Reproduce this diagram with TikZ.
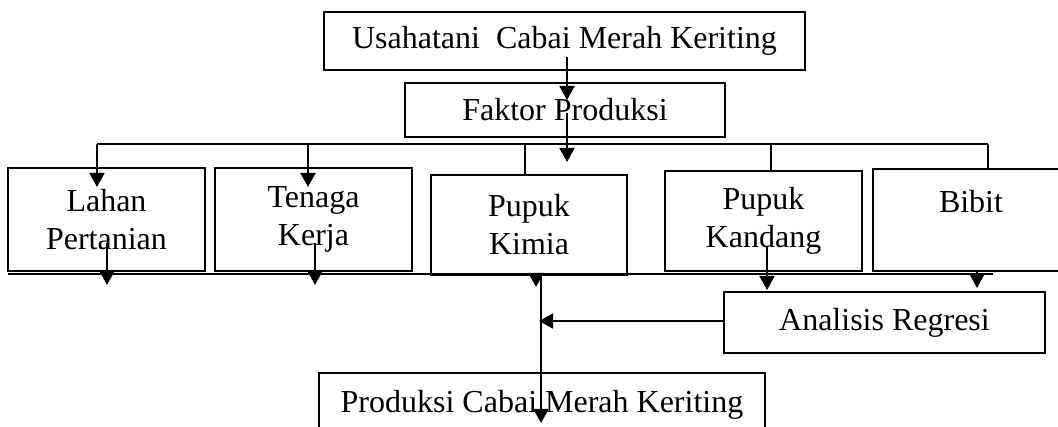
\documentclass[tikz,border=0pt]{standalone}
\usepackage{fontspec}
\setmainfont{Liberation Serif}
\usetikzlibrary{arrows.meta}
\tikzset{
  box/.style={draw, line width=1.5pt, fill=white, inner sep=0pt, align=center,
              font=\fontsize{32}{38}\selectfont},
  ln/.style={line width=1.8pt},
  arr/.style={line width=1.8pt, -{Triangle[width=15pt,length=14pt]}}
}
\begin{document}
\begin{tikzpicture}[x=1pt,y=-1pt]
\useasboundingbox (0,0) rectangle (1058,427);
\clip (0,0) rectangle (1058,427);
% boxes
\node[box, minimum width=481pt, minimum height=58pt] (top) at (564.5,41) {Usahatani\ \ Cabai Merah Keriting};
\node[box, minimum width=320pt, minimum height=54pt] (faktor) at (565,110) {Faktor Produksi};
\node[box, minimum width=197pt, minimum height=103pt] (lahan) at (106.5,219.5) {Lahan\\Pertanian};
\node[box, minimum width=197pt, minimum height=103pt] (tenaga) at (313.5,219.5) {Tenaga\\Kerja};
\node[box, minimum width=196pt, minimum height=100pt] (kimia) at (529,225) {Pupuk\\Kimia};
\node[box, minimum width=197pt, minimum height=100pt] (kandang) at (763.5,221) {Pupuk\\Kandang};
\node[box, minimum width=196pt, minimum height=102pt] (bibit) at (971,220) {Bibit\\\mbox{}};
\node[box, minimum width=321pt, minimum height=61pt] (analisis) at (884.5,322.5) {Analisis Regresi};
\node[box, minimum width=446pt, minimum height=64pt] (produksi) at (542,405) {Produksi Cabai Merah Keriting};
% coordinates
\coordinate (t1) at (567,57);  \coordinate (t2) at (567,100);
\coordinate (f1) at (567,113); \coordinate (f2) at (567,162);
\coordinate (d1) at (97,144);  \coordinate (d2) at (988,144);
\coordinate (la1) at (97,187); \coordinate (te0) at (308,144); \coordinate (te1) at (308,187);
\coordinate (ki0) at (525,144); \coordinate (ki1) at (525,175);
\coordinate (ka0) at (771,144); \coordinate (ka1) at (771,171);
\coordinate (bi1) at (988,169);
\coordinate (b1) at (8,274); \coordinate (b2) at (993,274);
\coordinate (la2) at (107,243); \coordinate (la3) at (107,285);
\coordinate (te2) at (315,243); \coordinate (te3) at (315,285);
\coordinate (ki2) at (536,273); \coordinate (ki3) at (536,287);
\coordinate (ka2) at (767,247); \coordinate (ka3) at (767,290);
\coordinate (bi2) at (977,272); \coordinate (bi3) at (977,288);
\coordinate (v1) at (541,275); \coordinate (v2) at (541,423);
\coordinate (h1) at (724,321); \coordinate (h2) at (539,321);
% connectors
\draw[arr] (t1) -- (t2);
\draw[arr] (f1) -- (f2);
\draw[ln] (d1) -- (d2);
\draw[arr] (d1) -- (la1);
\draw[arr] (te0) -- (te1);
\draw[ln] (ki0) -- (ki1);
\draw[ln] (ka0) -- (ka1);
\draw[ln] (d2) -- (bi1);
\draw[ln] (b1) -- (b2);
\draw[arr] (la2) -- (la3);
\draw[arr] (te2) -- (te3);
\draw[arr] (ki2) -- (ki3);
\draw[arr] (ka2) -- (ka3);
\draw[arr] (bi2) -- (bi3);
\draw[arr] (v1) -- (v2);
\draw[arr] (h1) -- (h2);
\end{tikzpicture}
\end{document}
